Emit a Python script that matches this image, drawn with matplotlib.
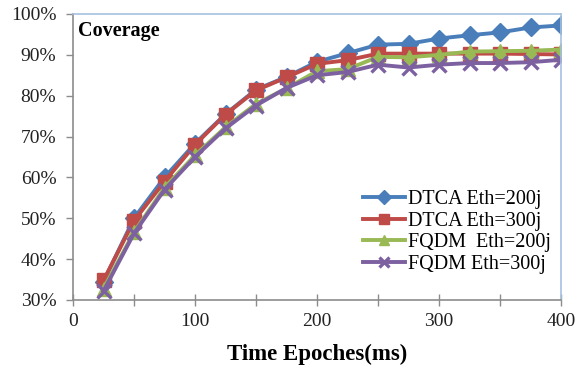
import matplotlib
matplotlib.use("Agg")
import matplotlib.pyplot as plt
from matplotlib.ticker import FuncFormatter

# Coverage (%) versus time epoch for each scheme / energy threshold
epochs = [25, 50, 75, 100, 125, 150, 175, 200, 225, 250, 275, 300, 325, 350, 375, 400]
dtca_200 = [34.5, 50.0, 60.0, 68.3, 75.5, 81.5, 84.6, 88.3, 90.4, 92.5, 92.7, 94.0, 94.8, 95.5, 96.7, 97.2]
dtca_300 = [34.8, 49.4, 59.0, 68.0, 75.4, 81.3, 84.5, 87.8, 88.7, 90.3, 90.3, 90.3, 90.3, 90.3, 90.2, 90.1]
fqdm_200 = [32.8, 46.6, 57.5, 65.4, 72.3, 78.0, 81.8, 86.0, 86.5, 89.5, 89.4, 90.0, 90.8, 90.9, 91.0, 91.3]
fqdm_300 = [32.2, 46.3, 57.0, 65.0, 72.0, 77.6, 81.9, 85.0, 85.8, 87.6, 86.9, 87.6, 88.0, 88.0, 88.2, 88.8]

series_labels = ["DTCA Eth=200j", "DTCA Eth=300j", "FQDM  Eth=200j", "FQDM Eth=300j"]
series_colors = ["#4A7EBB", "#BE4B48", "#98B954", "#7D60A0"]
series_markers = ["D", "s", "^", "x"]
y_ticks = [30, 40, 50, 60, 70, 80, 90, 100]
x_ticks = [0, 100, 200, 300, 400]

plt.rcParams["font.family"] = ["Liberation Serif", "DejaVu Serif"]

fig = plt.figure(figsize=(5.82, 3.70), dpi=100)
ax = fig.add_axes([73 / 582, 1 - 300 / 370, (561 - 73) / 582, (300 - 14) / 370])

for vals, lab, col, mk in zip([dtca_200, dtca_300, fqdm_200, fqdm_300],
                              series_labels, series_colors, series_markers):
    ms = 9.5 if mk != "x" else 10
    ax.plot(epochs, vals, color=col, lw=2.8, marker=mk, markersize=ms,
            markeredgewidth=2.4 if mk == "x" else 1.0, markeredgecolor=col,
            markerfacecolor=col, label=lab, clip_on=True)

ax.set_xlim(0, 400)
ax.set_ylim(30, 100)
ax.set_yticks(y_ticks)
ax.set_xticks(x_ticks)
ax.set_xticks([50, 150, 250, 350], minor=True)
ax.yaxis.set_major_formatter(FuncFormatter(lambda v, p: f"{v:.0f}%"))

ax.tick_params(axis="y", which="both", direction="out", length=5, width=1,
               color="#8C8C8C", labelsize=14, labelcolor="#222222", pad=7)
ax.tick_params(axis="x", which="both", direction="inout", length=8, width=1,
               color="#8C8C8C", labelsize=14, labelcolor="#222222", pad=5)

for side in ("left", "bottom"):
    ax.spines[side].set_color("#8C8C8C")
    ax.spines[side].set_linewidth(1.2)
for side in ("top", "right"):
    ax.spines[side].set_color("#A7C0E0")
    ax.spines[side].set_linewidth(1.2)

ax.set_xlabel("Time Epoches(ms)", fontsize=16.5, fontweight="bold", labelpad=10)
ax.text(0.010, 0.975, "Coverage", transform=ax.transAxes, ha="left", va="top",
        fontsize=14.5, fontweight="bold")

leg = ax.legend(loc="upper left", bbox_to_anchor=(363 / 582, 1 - 190 / 370),
                bbox_transform=fig.transFigure, frameon=False, fontsize=14.5,
                handlelength=2.1, handletextpad=0.15, labelspacing=0.12,
                borderpad=0, borderaxespad=0, markerscale=0.75)

fig.savefig("out.png", dpi=100)
